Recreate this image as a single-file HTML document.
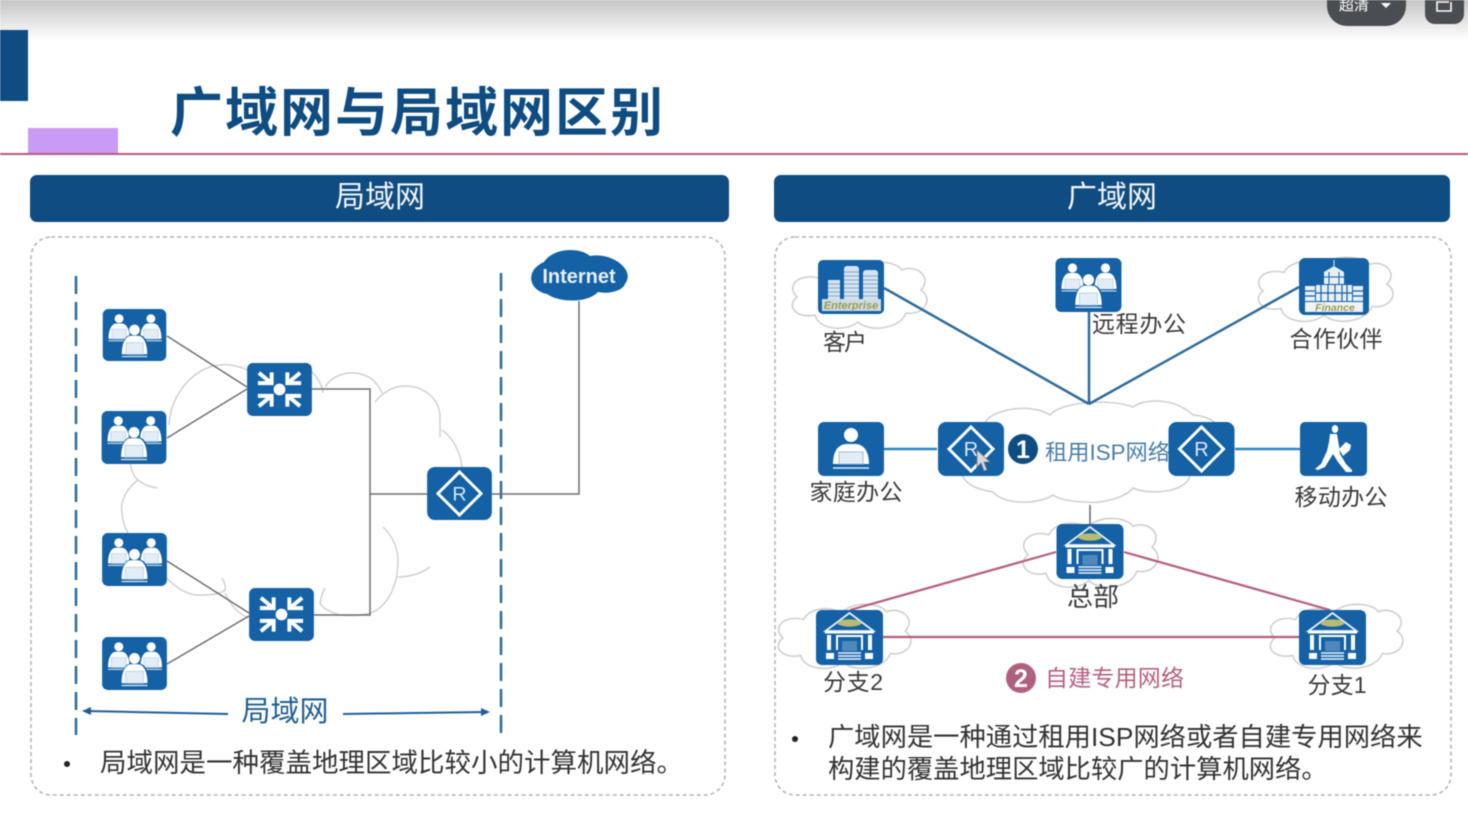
<!DOCTYPE html>
<html lang="zh"><head><meta charset="utf-8"><title>广域网与局域网区别</title>
<style>html,body{margin:0;padding:0;background:#fff;width:1468px;height:820px;overflow:hidden}
svg{display:block;filter:blur(.5px)}
text{font-family:"Liberation Sans","Noto Sans CJK SC",sans-serif}
.lb{font-size:23px;fill:#3a3a3a;text-anchor:middle}
.cl{fill:#fff;stroke:#cfcfcf;stroke-width:1.6;vector-effect:non-scaling-stroke}
</style></head><body>
<svg width="1468" height="820" viewBox="0 0 1468 820" xmlns="http://www.w3.org/2000/svg">
<defs>
<linearGradient id="tg" x1="0" y1="0" x2="0" y2="1"><stop offset="0" stop-color="#c4c4c4"/><stop offset=".5" stop-color="#e2e2e2"/><stop offset="1" stop-color="#fff"/></linearGradient>
<g id="p"><circle cx="0" cy="-11" r="4.600" fill="#fff"/><path d="M-11 10c0-11 4-16 8-16h6c4 0 8 5 8 16z" fill="#fff"/><path d="M-7.500 0h15v10h-15z" fill="#e3edf6" stroke="#bcd2e6" stroke-width=".8"/><path d="M-11 12h22" stroke="#e3edf6" stroke-width="1"/></g>
<symbol id="people" viewBox="0 0 66 54"><rect width="66" height="54" rx="6" fill="#1461a6"/><use href="#p" transform="translate(17,21)"/><use href="#p" transform="translate(50,21)"/><path d="M18 50c0-15 6-23 11-23h9c5 0 11 8 11 23z" fill="#1461a6"/><use href="#p" transform="translate(33,35) scale(1.200)"/></symbol>
<symbol id="switch" viewBox="0 0 66 54"><rect width="66" height="54" rx="6" fill="#1461a6"/><circle cx="33" cy="27" r="6" fill="#fff"/><g stroke="#fff" stroke-width="4" fill="none"><path d="M12 10l12 10M11 20.500h14v-11"/><path d="M54 10l-12 10M55 20.500h-14v-11"/><path d="M12 44l12-10M11 33.500h14v11"/><path d="M54 44l-12-10M55 33.500h-14v11"/></g></symbol>
<symbol id="router" viewBox="0 0 66 54"><rect width="66" height="54" rx="8" fill="#1461a6"/><path d="M33 5l22 22-22 22-22-22z" fill="none" stroke="#fff" stroke-width="3"/><text x="33" y="34" font-size="20" fill="#dce8f3" text-anchor="middle">R</text></symbol>
<symbol id="ent" viewBox="0 0 66 54"><rect width="66" height="54" rx="5" fill="#1461a6"/><g fill="#d5e3f0"><rect x="10" y="20" width="12" height="22"/><rect x="26" y="6" width="15" height="36" rx="3"/><rect x="45" y="10" width="15" height="32" rx="3"/></g><path d="M10 24h12M10 28h12M10 32h12M10 36h12M26 12h15M26 16h15M26 20h15M26 24h15M26 28h15M26 32h15M26 36h15M45 16h15M45 20h15M45 24h15M45 28h15M45 32h15M45 36h15" stroke="#7fa8cc" stroke-width="1"/><rect x="4" y="39" width="59" height="12" fill="#cfdce6"/><text x="33" y="49" font-size="11" font-style="italic" font-weight="700" fill="#9a9a50" text-anchor="middle">Enterprise</text></symbol>
<symbol id="fin" viewBox="0 0 70 57"><rect width="70" height="57" rx="6" fill="#1461a6"/><path d="M35 2v6" stroke="#e7eff7" stroke-width="1"/><path d="M25 14l10-6 10 6v12h-20z" fill="#e7eff7"/><path d="M25 19h20M30 14v12M40 14v12" stroke="#1461a6" stroke-width="1"/><rect x="17" y="27" width="36" height="16" fill="#e7eff7"/><rect x="6" y="28" width="10" height="15" fill="#e7eff7"/><rect x="54" y="28" width="10" height="15" fill="#e7eff7"/><path d="M22 27v16M29 27v16M36 27v16M43 27v16M48 27v16M17 35h36M6 33h10M6 38h10M54 33h10M54 38h10" stroke="#1461a6" stroke-width="1.200"/><rect x="6" y="44" width="58" height="10" fill="#eef3f7"/><text x="36" y="53" font-size="10.500" font-style="italic" font-weight="700" fill="#9a9a50" text-anchor="middle">Finance</text></symbol>
<symbol id="home" viewBox="0 0 66 54"><rect width="66" height="54" rx="6" fill="#1461a6"/><circle cx="33" cy="13" r="7" fill="#fff"/><path d="M15 42c0-15 7-20 14-20h8c7 0 14 5 14 20z" fill="#fff"/><rect x="21" y="30" width="24" height="12" fill="#e3edf6" stroke="#9fbfdc"/><path d="M15 46h36" stroke="#e3edf6" stroke-width="1.500"/></symbol>
<symbol id="walk" viewBox="0 0 67 54"><rect width="67" height="54" rx="5" fill="#1461a6"/><ellipse cx="35" cy="7" rx="3.200" ry="4" fill="#fff"/><path d="M30 12h7l2 12 1 8 6 10 6 6 v2h-6l-8-10-5-8-8 13-7 3-3-1 6-5 6-13 2-9z" fill="#fff"/><path d="M39 27l7-7 5 3-1 5-7 6z" fill="#fff"/></symbol>
<symbol id="bank" viewBox="0 0 67 55"><rect width="67" height="55" rx="6" fill="#1461a6"/><path d="M33.500 3l24 18h-48z" fill="none" stroke="#e8f0f7" stroke-width="1.800"/><ellipse cx="33.500" cy="13" rx="12" ry="3.600" fill="#b7bc6e"/><path d="M9 22.500h49" stroke="#fff" stroke-width="2"/><path d="M13 25v15M54 25v15" stroke="#fff" stroke-width="4"/><path d="M21 40v-14h25v14" fill="none" stroke="#fff" stroke-width="2"/><rect x="26" y="31" width="15" height="10" fill="#fff" opacity=".25"/><rect x="10" y="43" width="8" height="6" fill="#fff"/><rect x="49" y="43" width="8" height="6" fill="#fff"/><path d="M22 43h23M22 46h23M22 49h23" stroke="#d5e3f0" stroke-width="1.800"/></symbol>
<symbol id="cloud" viewBox="0 0 140 70" preserveAspectRatio="none"><path class="cl" d="M28 17C34 4 58 3 66 11C74 -1 104 -2 112 9C126 3 143 16 131 29C144 38 134 55 116 52C110 68 80 72 68 61C54 72 28 68 25 54C8 58 -5 46 7 36C-5 24 10 12 28 17Z"/></symbol>
</defs>

<rect width="1468" height="40" fill="url(#tg)"/>
<path d="M1327 0h79v6a20 20 0 0 1-20 20h-39a20 20 0 0 1-20-20z" fill="#4a4d52"/>
<text x="1339" y="10" font-size="15" fill="#fff">超清</text><path d="M1381 3h10l-5 5z" fill="#fff"/>
<path d="M1425 0h39v14a10 10 0 0 1-10 10h-19a10 10 0 0 1-10-10z" fill="#4a4d52"/>
<path d="M1451 2v9h-14v-9h12" fill="none" stroke="#fff" stroke-width="1.600"/>

<rect x="0" y="30" width="28" height="71" fill="#0f4c81"/>
<rect x="28" y="128" width="90" height="25" fill="#c99bf4"/>
<rect x="0" y="153" width="1468" height="2" fill="#b5597f"/>
<text x="170" y="131" font-size="53" font-weight="700" fill="#0f4c81" textLength="493" lengthAdjust="spacing">广域网与局域网区别</text>

<rect x="30" y="175" width="699" height="47" rx="7" fill="#0f4c81"/>
<rect x="774" y="175" width="676" height="47" rx="7" fill="#0f4c81"/>
<text x="380" y="207" font-size="30" fill="#f2f5f8" text-anchor="middle">局域网</text>
<text x="1112" y="207" font-size="30" fill="#f2f5f8" text-anchor="middle">广域网</text>

<rect x="31" y="237" width="694" height="558" rx="20" fill="#fff" stroke="#b5b5b5" stroke-width="1.600" stroke-dasharray="4 3"/>
<rect x="775" y="237" width="676" height="558" rx="20" fill="#fff" stroke="#b5b5b5" stroke-width="1.600" stroke-dasharray="4 3"/>

<!-- LAN -->
<path d="M169 425C170 390 205 350 247 370M312 372C318 378 322 385 323 393M325 387C332 376 345 372 355 373C368 374 378 382 382 393M375 402C385 390 395 386 405 386C425 386 440 400 440 417C440 425 440 430 440 437M442 430C452 437 460 450 462 467M130 463C132 472 134 477 138 480C144 485 150 487 157 488M138 480C125 490 120 502 122 513C123 522 125 528 128 533M167 578C178 590 190 596 202 595C212 595 220 594 225 590C226 585 224 582 222 578M225 593C230 605 238 613 248 618M383 527C392 535 398 548 398 560C398 570 397 577 395 583C390 600 380 610 370 613C360 616 350 616 340 615C330 612 322 608 320 603C321 597 323 592 325 588M398 577C410 577 422 573 430 567" fill="none" stroke="#d0d0d0" stroke-width="1.500"/>
<path d="M76 276V735M501 273V740" stroke="#2a6a9e" stroke-width="2.500" stroke-dasharray="18 8" fill="none"/>
<g stroke="#6e6e6e" stroke-width="1.500" fill="none">
<path d="M167 336L247 387M167 438L247 389M167 561L249 613M167 664L249 616"/>
<path d="M312 389H370V615H314M370 494H427M492 494H579V301"/>
</g>
<use href="#people" x="102" y="309" width="65" height="52"/>
<use href="#people" x="101" y="411" width="66" height="53"/>
<use href="#people" x="102" y="533" width="65" height="53"/>
<use href="#people" x="102" y="637" width="65" height="53"/>
<use href="#switch" x="247" y="363" width="65" height="53"/>
<use href="#switch" x="249" y="588" width="65" height="53"/>
<use href="#router" x="427" y="467" width="65" height="53"/>
<path d="M547 294C528 290 525 270 544 262C552 249 578 246 590 256C612 252 636 270 625 284C622 292 606 294 598 292C588 303 560 303 547 294Z" fill="#1461a6"/>
<text x="579" y="283" font-size="20" font-weight="700" fill="#e8f0f7" text-anchor="middle">Internet</text>
<text x="285" y="721" font-size="29" fill="#1f5f95" text-anchor="middle">局域网</text>
<g stroke="#1f5f95" stroke-width="2" fill="#1f5f95">
<path d="M86 711L228 714M343 714L486 712" fill="none"/>
<path d="M82 711l9-4v8zM490 712l-9-4v8z" stroke="none"/>
</g>
<circle cx="67" cy="764" r="3" fill="#222"/>
<text x="100" y="772" font-size="26.500" fill="#333">局域网是一种覆盖地理区域比较小的计算机网络。</text>

<!-- WAN clouds -->
<use href="#cloud" x="790" y="261" width="140" height="70"/>
<use href="#cloud" x="1256" y="256" width="140" height="68"/>
<path class="cl" d="M985 423C990 410 1030 402 1050 415C1060 402 1110 398 1133 407C1145 398 1175 398 1193 415C1205 416 1214 420 1217 426L1220 470C1210 476 1200 476 1190 475C1188 492 1150 496 1133 488C1125 498 1100 504 1087 502C1075 502 1060 500 1053 495C1040 504 1005 506 993 492C980 490 968 486 963 477L950 425Z"/>
<use href="#cloud" x="1021" y="517" width="140" height="73"/>
<use href="#cloud" x="776" y="603" width="138" height="68"/>
<use href="#cloud" x="1268" y="603" width="138" height="68"/>

<g fill="none">
<path d="M884 288L1089 404M1089 312V404M1299 287L1089 404" stroke="#2f6a9c" stroke-width="2.500"/>
<path d="M884 449H937M1235 449H1300" stroke="#2b85bd" stroke-width="2.500"/>
<path d="M1090 505V524" stroke="#666" stroke-width="1.500"/>
<path d="M1056 552L850 610M1124 552L1330 610M883 637H1299" stroke="#b5607f" stroke-width="2.200"/>
</g>
<use href="#ent" x="818" y="260" width="66" height="54"/>
<use href="#people" x="1055" y="258" width="67" height="54"/>
<use href="#fin" x="1299" y="258" width="70" height="57"/>
<use href="#home" x="818" y="422" width="66" height="54"/>
<use href="#router" x="937" y="422" width="68" height="54"/>
<use href="#router" x="1168" y="422" width="67" height="54"/>
<use href="#walk" x="1300" y="422" width="67" height="54"/>
<use href="#bank" x="1056" y="524" width="68" height="55"/>
<use href="#bank" x="816" y="610" width="67" height="55"/>
<use href="#bank" x="1299" y="610" width="67" height="55"/>
<path d="M977 450l0 17 4-4 3 8 3-1-3-8 6 0z" fill="#d8d8e0" stroke="#777" stroke-width=".8"/>

<text class="lb" x="845" y="350" textLength="44" lengthAdjust="spacing">客户</text>
<text class="lb" x="1139" y="332" textLength="94" lengthAdjust="spacing">远程办公</text>
<text class="lb" x="1336" y="347" textLength="93" lengthAdjust="spacing">合作伙伴</text>
<text class="lb" x="856" y="500" textLength="93" lengthAdjust="spacing">家庭办公</text>
<text class="lb" x="1341" y="505" textLength="93" lengthAdjust="spacing">移动办公</text>
<text class="lb" x="1093" y="606" style="font-size:26px">总部</text>
<text class="lb" x="853" y="690" textLength="60" lengthAdjust="spacing">分支2</text>
<text class="lb" x="1337" y="693" textLength="59" lengthAdjust="spacing">分支1</text>

<circle cx="1023" cy="449" r="15" fill="#0f4c81"/>
<text x="1023" y="458" font-size="25" font-weight="700" fill="#fff" text-anchor="middle">1</text>
<text x="1045" y="460" font-size="22" fill="#4a7ea8" textLength="125" lengthAdjust="spacingAndGlyphs">租用ISP网络</text>
<circle cx="1021" cy="678" r="15" fill="#b0607f"/>
<text x="1021" y="687" font-size="25" font-weight="700" fill="#fff" text-anchor="middle">2</text>
<text x="1045" y="686" font-size="23" fill="#b5607f" textLength="139" lengthAdjust="spacing">自建专用网络</text>

<circle cx="795" cy="739" r="3" fill="#222"/>
<text x="828" y="746" font-size="26.300" fill="#333">广域网是一种通过租用ISP网络或者自建专用网络来</text>
<text x="828" y="778" font-size="26.300" fill="#333">构建的覆盖地理区域比较广的计算机网络。</text>
</svg>
</body></html>
